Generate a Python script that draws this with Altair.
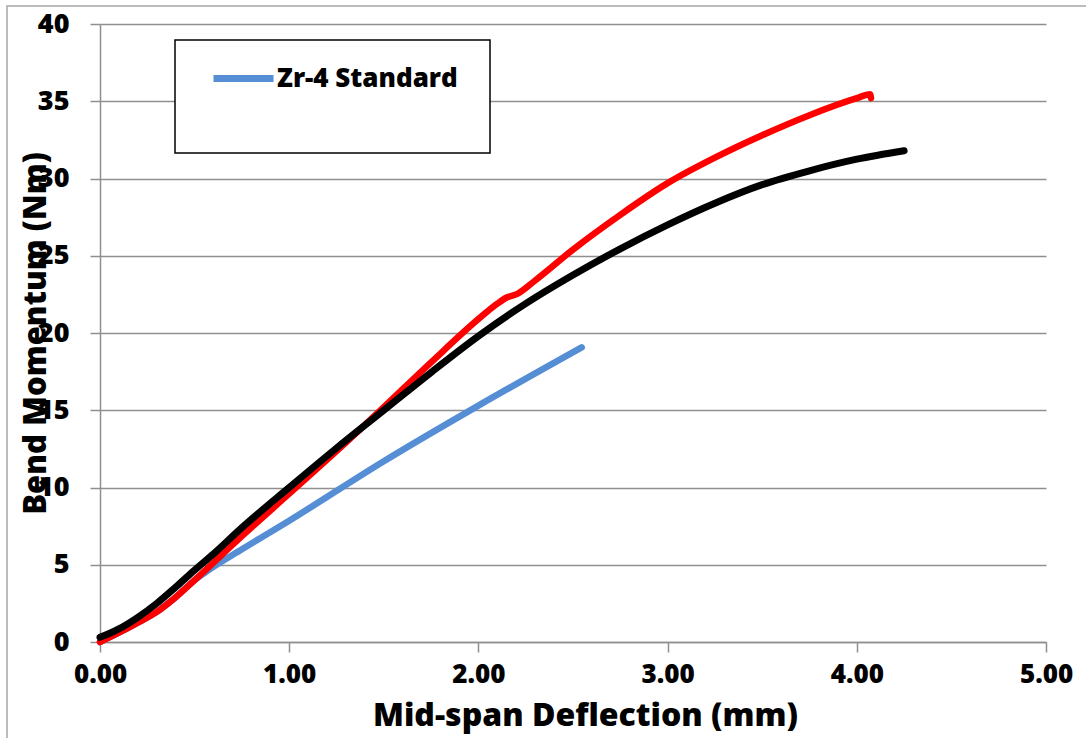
import altair as alt
import pandas as pd

# ---- data ----
black_x = [0, 0.1, 0.2, 0.3, 0.4, 0.5, 0.6, 0.75, 1.0, 1.25, 1.5, 1.75, 2.0, 2.25, 2.5, 2.75, 3.0, 3.25, 3.5, 3.75, 4.0, 4.25]
black_y = [0.3, 0.85, 1.6, 2.5, 3.55, 4.65, 5.7, 7.4, 10.0, 12.55, 15.0, 17.45, 19.8, 21.9, 23.75, 25.45, 27.0, 28.4, 29.6, 30.5, 31.25, 31.8]

red_x = [0, 0.1, 0.2, 0.3, 0.4, 0.5, 0.75, 1.0, 1.25, 1.5, 1.75, 2.0, 2.1, 2.15, 2.2, 2.3, 2.5, 2.75, 3.0, 3.25, 3.5, 3.75, 4.0, 4.07, 4.075]
red_y = [0, 0.6, 1.25, 1.95, 2.9, 4.0, 6.85, 9.6, 12.35, 15.2, 18.1, 20.9, 21.9, 22.3, 22.5, 23.4, 25.4, 27.65, 29.7, 31.35, 32.8, 34.1, 35.2, 35.45, 35.2]

blue_x = [0, 0.1, 0.2, 0.3, 0.4, 0.5, 0.55, 0.75, 1.0, 1.5, 2.0, 2.546]
blue_y = [0, 0.6, 1.25, 1.95, 2.9, 4.0, 4.45, 6.0, 7.85, 11.7, 15.3, 19.07]

x_ticks = [0, 1, 2, 3, 4, 5]
y_ticks = [0, 5, 10, 15, 20, 25, 30, 35, 40]

FONT = "Open Sans"
WEIGHT = 800
GRID = "#8f8f8f"


def frame(xs, ys, name):
    return pd.DataFrame({"x": xs, "y": ys, "series": name, "order": list(range(len(xs)))})


blue_df = frame(blue_x, blue_y, "Zr-4 Standard")
red_df = frame(red_x, red_y, "red")
black_df = frame(black_x, black_y, "black")

x_enc = alt.X(
    "x:Q",
    scale=alt.Scale(domain=[0, 5], nice=False),
    axis=alt.Axis(
        values=x_ticks, format=".2f", title="Mid-span Deflection (mm)", grid=False,
        domainColor=GRID, domainWidth=1.5, tickColor=GRID, tickWidth=1.5, tickSize=10,
        labelFont=FONT, labelFontSize=26, labelFontWeight=WEIGHT, labelColor="black",
        labelPadding=9, labelFlush=False,
        titleFont=FONT, titleFontSize=32, titleFontWeight=WEIGHT, titleColor="black",
        titleX=485, titleY=83, titleBaseline="alphabetic",
    ),
)
y_enc = alt.Y(
    "y:Q",
    scale=alt.Scale(domain=[0, 40], nice=False),
    axis=alt.Axis(
        values=y_ticks, title="Bend Momentum (Nm)", grid=True,
        gridColor=GRID, gridWidth=1.5,
        domainColor=GRID, domainWidth=1.5, tickColor=GRID, tickWidth=1.5, tickSize=10,
        labelFont=FONT, labelFontSize=27, labelFontWeight=WEIGHT, labelColor="black",
        labelPadding=21, labelFlush=False,
        titleFont=FONT, titleFontSize=31, titleFontWeight=WEIGHT, titleColor="black",
        titleAngle=-90, titleX=-64, titleY=309, titleBaseline="middle", titleAlign="center",
    ),
)

dummy = pd.DataFrame({"a": [0]})

outer = alt.Chart(dummy).mark_rect(fill=None, stroke="#a6a6a6", strokeWidth=1.5).encode(
    x=alt.value(-93), x2=alt.value(1100), y=alt.value(-18), y2=alt.value(800)
)
legend_box = alt.Chart(dummy).mark_rect(fill="white", stroke="black", strokeWidth=1.5).encode(
    x=alt.value(75), x2=alt.value(390), y=alt.value(16), y2=alt.value(129)
)

blue = alt.Chart(blue_df).mark_line(strokeWidth=6.5, strokeCap="round", strokeJoin="round", interpolate="monotone").encode(
    x=x_enc, y=y_enc, order="order:Q",
    color=alt.Color(
        "series:N",
        scale=alt.Scale(domain=["Zr-4 Standard"], range=["#558ed5"]),
        legend=alt.Legend(
            title=None, orient="none", legendX=110, legendY=21, padding=0,
            symbolType="stroke", symbolSize=3600, symbolStrokeWidth=7,
            labelFont=FONT, labelFontSize=26, labelFontWeight=WEIGHT, labelColor="black",
            labelOffset=0, labelLimit=400,
        ),
    ),
)
red = alt.Chart(red_df).mark_line(strokeWidth=6.5, strokeCap="round", strokeJoin="round", interpolate="monotone", color="#ff0000").encode(
    x=x_enc, y=y_enc, order="order:Q"
)
black = alt.Chart(black_df).mark_line(strokeWidth=7, strokeCap="round", strokeJoin="round", interpolate="monotone", color="#000000").encode(
    x=x_enc, y=y_enc, order="order:Q"
)

chart = alt.layer(outer, legend_box, blue, red, black).properties(
    width=946, height=618,
    autosize=alt.AutoSizeParams(type="none"),
    padding={"left": 100, "top": 24, "right": 40, "bottom": 96},
    background="white",
).configure_view(stroke=None)

chart.save("out.html", embed_options={"renderer": "svg", "actions": False})
